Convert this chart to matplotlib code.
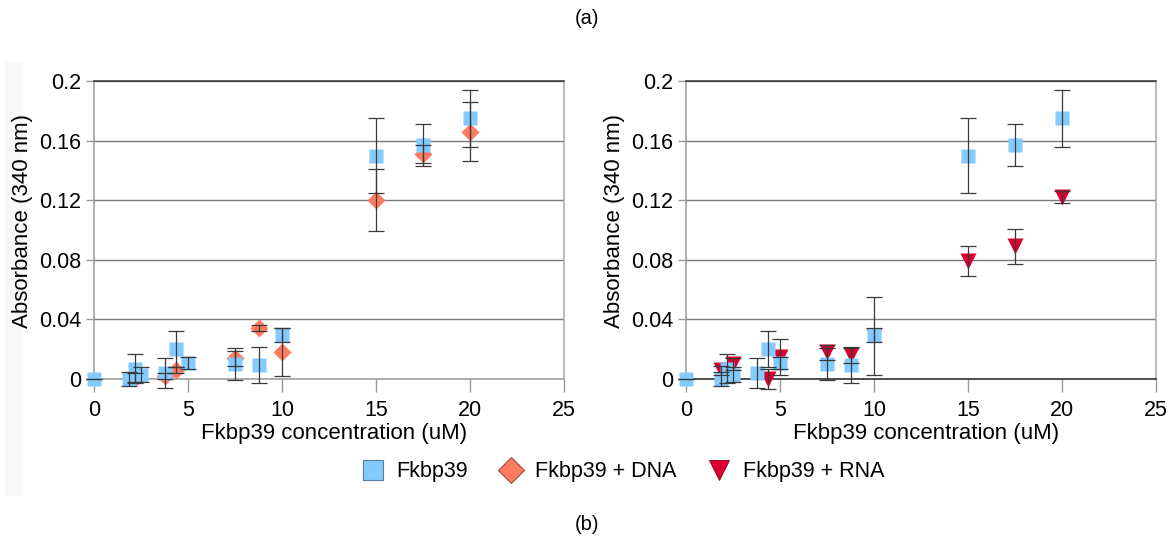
import matplotlib
matplotlib.use('Agg')
import matplotlib.pyplot as plt
from matplotlib.lines import Line2D
from matplotlib.patches import Rectangle

plt.rcParams['font.family'] = ['Liberation Sans', 'DejaVu Sans']

# ---------------- data ----------------
conc_fkbp = [0, 1.875, 2.1875, 2.5, 3.75, 4.375, 5, 7.5, 8.75, 10, 15, 17.5, 20]
abs_fkbp = [0.000, 0.000, 0.007, 0.003, 0.004, 0.020, 0.0105, 0.010, 0.0095, 0.0295, 0.150, 0.157, 0.175]
err_fkbp = [0.000, 0.005, 0.010, 0.005, 0.010, 0.012, 0.004, 0.011, 0.012, 0.005, 0.025, 0.014, 0.019]

conc_dna = [2.1875, 3.75, 4.375, 7.5, 8.75, 10, 15, 17.5, 20]
abs_dna = [0.001, 0.002, 0.006, 0.014, 0.034, 0.018, 0.120, 0.151, 0.166]
err_dna = [0.003, 0.002, 0.002, 0.005, 0.002, 0.016, 0.021, 0.006, 0.020]

conc_rna = [1.875, 2.5, 4.375, 5, 7.5, 8.75, 10, 15, 17.5, 20]
abs_rna = [0.006, 0.010, 0.000, 0.015, 0.018, 0.016, 0.029, 0.079, 0.089, 0.122]
err_rna = [0.003, 0.004, 0.007, 0.012, 0.005, 0.005, 0.026, 0.010, 0.0115, 0.004]

x_ticks = [0, 5, 10, 15, 20, 25]
y_ticks = [0, 0.04, 0.08, 0.12, 0.16, 0.2]
y_tick_labels = ['0', '0.04', '0.08', '0.12', '0.16', '0.2']

labels = ['Fkbp39', 'Fkbp39 + DNA', 'Fkbp39 + RNA']
col_fkbp = '#83caff'
col_dna = '#ff7b62'
col_rna = '#d9002f'

# ---------------- figure ----------------
W, H = 1174, 544
fig = plt.figure(figsize=(W / 100, H / 100), dpi=100)

fig.patches.append(Rectangle((5 / W, (H - 495) / H), 17 / W, (495 - 62) / H,
                             transform=fig.transFigure, color='#f8f8f8', zorder=-10))

FS = 15.5
LFS = 16


def make_axes(left_px, bottom_dark):
    ax = fig.add_axes([left_px / W, (H - 379) / H, 470 / W, (379 - 81) / H])
    ax.set_xlim(0, 25)
    ax.set_ylim(0, 0.2)
    ax.set_xticks(x_ticks)
    ax.set_yticks(y_ticks)
    ax.set_yticklabels(y_tick_labels)
    ax.grid(axis='y', color='#7a7a7a', lw=1)
    ax.set_axisbelow(True)
    ax.spines['left'].set_color('#9a9a9a')
    ax.spines['bottom'].set_color('#222222' if bottom_dark else '#9a9a9a')
    ax.spines['top'].set_color('#333333')
    ax.spines['right'].set_color('#a8a8a8')
    for s in ax.spines.values():
        s.set_linewidth(1.1)
    ax.tick_params(axis='x', direction='out', length=9, width=1, color='#9a9a9a',
                   labelsize=FS, pad=6)
    ax.tick_params(axis='y', direction='out', length=6, width=1, color='#9a9a9a',
                   labelsize=FS, pad=3)
    ax.set_xlabel('Fkbp39 concentration (uM)', fontsize=LFS, labelpad=3)
    ax.xaxis.set_label_coords(0.51, -0.148)
    ax.set_ylabel('Absorbance (340 nm)', fontsize=LFS)
    ax.yaxis.set_label_coords(-0.13, 0.53)
    return ax


def draw(ax, x, y, e, marker, ms, color, z):
    ax.plot(x, y, ls='none', marker=marker, ms=ms, color=color, mec='none',
            clip_on=False, zorder=z)
    ax.errorbar(x, y, yerr=e, fmt='none', ecolor='#3a3a3a', elinewidth=0.9,
                capsize=6, capthick=0.9, zorder=z + 5, clip_on=False)


ax1 = make_axes(94, False)
draw(ax1, conc_dna, abs_dna, err_dna, 'D', 9.5, col_dna, 3)
draw(ax1, conc_fkbp, abs_fkbp, err_fkbp, 's', 10, col_fkbp, 4)

ax2 = make_axes(686, True)
draw(ax2, conc_rna, abs_rna, err_rna, 'v', 11, col_rna, 3)
draw(ax2, conc_fkbp, abs_fkbp, err_fkbp, 's', 10, col_fkbp, 4)

handles = [
    Line2D([], [], ls='none', marker='s', ms=15, color=col_fkbp, mec='#5a7d99', mew=0.8),
    Line2D([], [], ls='none', marker='D', ms=13, color=col_dna, mec='#a04a3a', mew=0.8),
    Line2D([], [], ls='none', marker='v', ms=15, color=col_rna, mec='#8a0020', mew=0.6),
]
fig.legend(handles, labels, loc='center', bbox_to_anchor=(0.53, (H - 472) / H),
           ncol=3, frameon=False, fontsize=15.5, handletextpad=0.5,
           columnspacing=1.4, handlelength=1.2)

fig.text(0.5, 1 - 18 / H, '(a)', ha='center', va='center', fontsize=14.5)
fig.text(0.5, 1 - 525 / H, '(b)', ha='center', va='center', fontsize=14.5)

fig.savefig('out.png', dpi=100)
